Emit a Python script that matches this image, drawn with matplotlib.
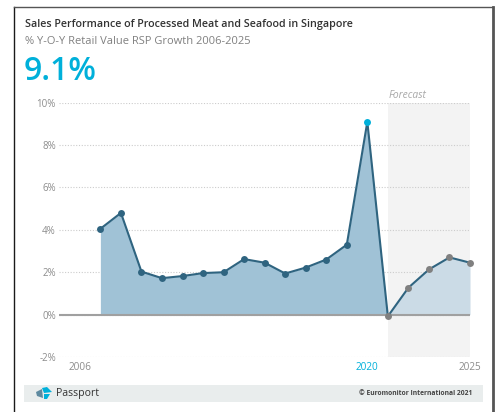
import matplotlib
matplotlib.use('Agg')
import matplotlib.pyplot as plt
from matplotlib.patches import Rectangle, Polygon

plt.rcParams['font.family'] = ['Open Sans', 'DejaVu Sans']

W, H = 499, 412

years = [2007, 2008, 2009, 2010, 2011, 2012, 2013, 2014, 2015, 2016, 2017, 2018, 2019]
values = [4.05, 4.8, 2.03, 1.72, 1.82, 1.96, 2.0, 2.62, 2.45, 1.94, 2.22, 2.6, 3.3]
peak_year = [2020]
peak_value = [9.1]
fc_years = [2021, 2022, 2023, 2024, 2025]
fc_values = [-0.08, 1.27, 2.13, 2.7, 2.45]

yticks = [-2, 0, 2, 4, 6, 8, 10]
xticks = [2006, 2020, 2025]

LINE = '#2f6480'
GREY_TXT = '#8c8c8c'
CYAN = '#00b0da'

fig = plt.figure(figsize=(W / 100, H / 100), dpi=100, facecolor='white')

# overlay in pixel coords for frame, footer, logo
bg = fig.add_axes([0, 0, 1, 1])
bg.set_xlim(0, W)
bg.set_ylim(H, 0)
bg.axis('off')
bg.add_patch(Rectangle((0, 0), W, H, fc='#ffffff', ec='none'))
bg.plot([14.5, 14.5], [7, H], color='#1a1a1a', lw=1.0)
bg.plot([14, 493], [7, 7], color='#555555', lw=1.0)
bg.plot([493.5, 493.5], [7, H], color='#555555', lw=2.0)
bg.add_patch(Rectangle((24, 385), 459, 17, fc='#e9eded', ec='none'))

bg.add_patch(Polygon([[36, 392], [42, 389], [43, 398], [37, 396]], fc='#5f8aa0', ec='none'))
bg.add_patch(Polygon([[42, 388], [47, 387], [52, 392], [44, 393]], fc='#00b0da', ec='none'))
bg.add_patch(Polygon([[44, 394], [50, 394], [47, 399], [44, 399]], fc='#00b0da', ec='none'))
bg.text(56, 393.5, 'Passport', fontsize=7.6, color='#333333', va='center', ha='left')
bg.text(472, 393.5, '© Euromonitor International 2021', fontsize=4.9, fontweight='bold',
        color='#444444', va='center', ha='right')

bg.text(25, 24.5, 'Sales Performance of Processed Meat and Seafood in Singapore', fontsize=7.75,
        fontweight='semibold', color='#333333', va='center', ha='left')
bg.text(25, 41, '% Y-O-Y Retail Value RSP Growth 2006-2025', fontsize=8, color='#808080',
        va='center', ha='left')
bg.text(24, 71, '9.1%', fontsize=23, fontweight='semibold', color=CYAN, va='center', ha='left')

ax = fig.add_axes([58.7 / W, 1 - 357 / H, (470 - 58.7) / W, (357 - 102.7) / H])
ax.patch.set_alpha(0)
ax.set_xlim(2004.97, 2025)
ax.set_ylim(-2, 10)
for s in ax.spines.values():
    s.set_visible(False)

ax.axvspan(2021, 2025, color='#f3f3f3', lw=0, zorder=0)
ax.grid(axis='y', ls=(0, (1, 1.5)), color='#cccccc', lw=0.8, zorder=1)
ax.grid(axis='x', visible=False)
ax.set_axisbelow(True)

hist_x = years + peak_year + fc_years[:1]
hist_y = values + peak_value + fc_values[:1]
ax.fill_between(hist_x, hist_y, 0, color='#a0c2d6', lw=0, zorder=2)
ax.fill_between(fc_years, fc_values, 0, color='#cbdbe6', lw=0, zorder=2)
ax.axhline(0, color='#a0a0a0', lw=1.5, zorder=3)
ax.plot(hist_x + fc_years[1:], hist_y + fc_values[1:], color=LINE, lw=1.5, zorder=4)
ax.plot(years, values, 'o', color=LINE, ms=5, mew=0, zorder=5, clip_on=False)
ax.plot(peak_year, peak_value, 'o', color=CYAN, ms=5, mew=0, zorder=5, clip_on=False)
ax.plot(fc_years, fc_values, 'o', color='#808080', ms=5, mew=0, zorder=5, clip_on=False)

ax.set_yticks(yticks)
ax.set_yticklabels([f'{v}%' for v in yticks], fontsize=7, color=GREY_TXT)
ax.set_xticks(xticks)
ax.set_xticklabels([str(v) for v in xticks], fontsize=7.2, color=GREY_TXT)
ax.get_xticklabels()[1].set_color(CYAN)
ax.tick_params(axis='both', length=0)
ax.tick_params(axis='y', pad=2)
ax.tick_params(axis='x', pad=3.5)

ax.text(2021.05, 10.1, 'Forecast', fontsize=7.4, style='italic', color='#a8a8a8', va='bottom', ha='left')

fig.savefig('out.png', dpi=100)
